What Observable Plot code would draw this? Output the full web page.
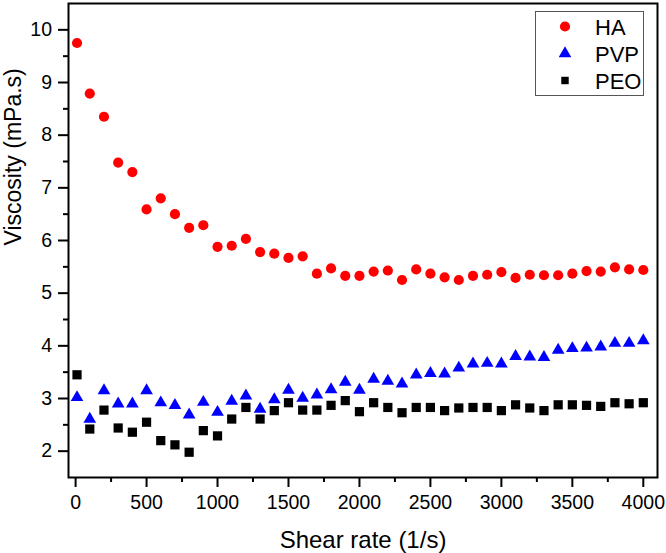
<!DOCTYPE html>
<html>
<head>
<meta charset="utf-8">
<script src="https://cdn.jsdelivr.net/npm/d3@7"></script>
<script src="https://cdn.jsdelivr.net/npm/@observablehq/plot@0.6"></script>
<style>
  html, body { margin: 0; padding: 0; background: #fff; }
  #wrap { position: relative; width: 666px; height: 553px; font-family: "Liberation Sans", Arial, sans-serif; }
  #legend { position: absolute; left: 535px; top: 11px; width: 109px; height: 85px; border: 1px solid #555; background: #fff; box-sizing: border-box; }
  .row { position: absolute; left: 0; height: 27px; width: 109px; }
  .row svg { position: absolute; left: 19px; top: 0; }
  .row span { position: absolute; left: 59px; top: 1px; font-size: 22px; line-height: 27px; color: #000; }
</style>
</head>
<body>
<div id="wrap"></div>
<script>
const shearRate = [10, 100, 200, 300, 400, 500, 600, 700, 800, 900, 1000, 1100, 1200, 1300, 1400, 1500, 1600, 1700, 1800, 1900, 2000,
  2100, 2200, 2300, 2400, 2500, 2600, 2700, 2800, 2900, 3000, 3100, 3200, 3300, 3400, 3500, 3600, 3700, 3800, 3900, 4000];
const haValues = [9.75, 8.79, 8.35, 7.48, 7.30, 6.59, 6.80, 6.50, 6.24, 6.29, 5.88, 5.90, 6.03, 5.78, 5.75, 5.67, 5.70, 5.37, 5.47, 5.33, 5.33,
  5.41, 5.43, 5.25, 5.45, 5.37, 5.30, 5.25, 5.33, 5.35, 5.40, 5.29, 5.35, 5.34, 5.34, 5.37, 5.42, 5.41, 5.49, 5.45, 5.44];
const pvpValues = [3.02, 2.61, 3.15, 2.90, 2.90, 3.15, 2.92, 2.87, 2.69, 2.93, 2.74, 2.95, 3.05, 2.80, 2.98, 3.16, 3.01, 3.07, 3.17, 3.31, 3.16,
  3.37, 3.33, 3.28, 3.45, 3.48, 3.47, 3.58, 3.66, 3.67, 3.66, 3.80, 3.79, 3.78, 3.92, 3.95, 3.96, 3.98, 4.05, 4.05, 4.10];
const peoValues = [3.45, 2.42, 2.78, 2.44, 2.36, 2.55, 2.20, 2.12, 1.98, 2.39, 2.29, 2.61, 2.83, 2.61, 2.77, 2.92, 2.78, 2.78, 2.87, 2.96, 2.75,
  2.92, 2.83, 2.73, 2.83, 2.83, 2.77, 2.82, 2.83, 2.83, 2.77, 2.88, 2.82, 2.77, 2.88, 2.88, 2.87, 2.85, 2.92, 2.90, 2.92];
const seriesNames = ["HA", "PVP", "PEO"];
const xTicks = [0, 500, 1000, 1500, 2000, 2500, 3000, 3500, 4000];
const xMinorTicks = [250, 750, 1250, 1750, 2250, 2750, 3250, 3750];
const yTicks = [2, 3, 4, 5, 6, 7, 8, 9, 10];
const yMinorTicks = [2.5, 3.5, 4.5, 5.5, 6.5, 7.5, 8.5, 9.5];
const xTitle = "Shear rate (1/s)";
const yTitle = "Viscosity (mPa.s)";

const styles = {
  HA: {symbol: "circle", fill: "#ff0000", r: 5.1},
  PVP: {symbol: "triangle", fill: "#0000ff", r: 4.7},
  PEO: {symbol: "square", fill: "#000000", r: 5.2}
};
const valuesBySeries = {HA: haValues, PVP: pvpValues, PEO: peoValues};
const data = seriesNames.map(name => ({name, rows: shearRate.map((x, i) => ({x, y: valuesBySeries[name][i]}))}));
const plain = d => String(d);

const chart = Plot.plot({
  width: 666,
  height: 553,
  marginLeft: 68,
  marginRight: 9,
  marginTop: 3,
  marginBottom: 76,
  style: {fontFamily: "Liberation Sans, Arial, sans-serif", fontSize: "19.5px", color: "#000", background: "#fff", overflow: "visible"},
  x: {domain: [-50, 4100]},
  y: {domain: [1.5, 10.5]},
  marks: [
    ...data.map(s => Plot.dot(s.rows, {x: "x", y: "y", symbol: () => styles[s.name].symbol, fill: styles[s.name].fill, r: styles[s.name].r, stroke: "none"})),
    Plot.frame({stroke: "#000", strokeWidth: 2}),
    Plot.axisX(xTicks, {tickSize: 10, tickPadding: 8, strokeWidth: 2, fontSize: 19.5, tickFormat: plain, label: null}),
    Plot.axisX(xMinorTicks, {tickSize: 5, strokeWidth: 2, text: null, label: null}),
    Plot.axisY(yTicks, {tickSize: 10, tickPadding: 6.5, strokeWidth: 2, fontSize: 19.5, tickFormat: plain, label: null}),
    Plot.axisY(yMinorTicks, {tickSize: 5, strokeWidth: 2, text: null, label: null}),
    Plot.text([xTitle], {frameAnchor: "bottom", text: d => d, dy: 70.5, lineAnchor: "bottom", fontSize: 24, fill: "#000"}),
    Plot.text([yTitle], {frameAnchor: "left", text: d => d, dx: -47.5, dy: 5, rotate: -90, lineAnchor: "bottom", fontSize: 23, fill: "#000"})
  ]
});

const wrap = document.getElementById("wrap");
wrap.appendChild(chart);

// Legend overlay inside the plot area
const legend = document.createElement("div");
legend.id = "legend";
const symbolPaths = {
  circle: d3.symbol(d3.symbolCircle, Math.PI * 5.1 * 5.1)(),
  triangle: d3.symbol(d3.symbolTriangle, Math.PI * 4.7 * 4.7)(),
  square: d3.symbol(d3.symbolSquare, Math.PI * 4.2 * 4.2)()
};
seriesNames.forEach((name, i) => {
  const row = document.createElement("div");
  row.className = "row";
  row.style.top = (1 + i * 27) + "px";
  const st = styles[name];
  row.innerHTML = `<svg width="20" height="27" viewBox="-10 -13.5 20 27"><path d="${symbolPaths[st.symbol]}" fill="${st.fill}"></path></svg><span>${name}</span>`;
  legend.appendChild(row);
});
wrap.appendChild(legend);
</script>
</body>
</html>
